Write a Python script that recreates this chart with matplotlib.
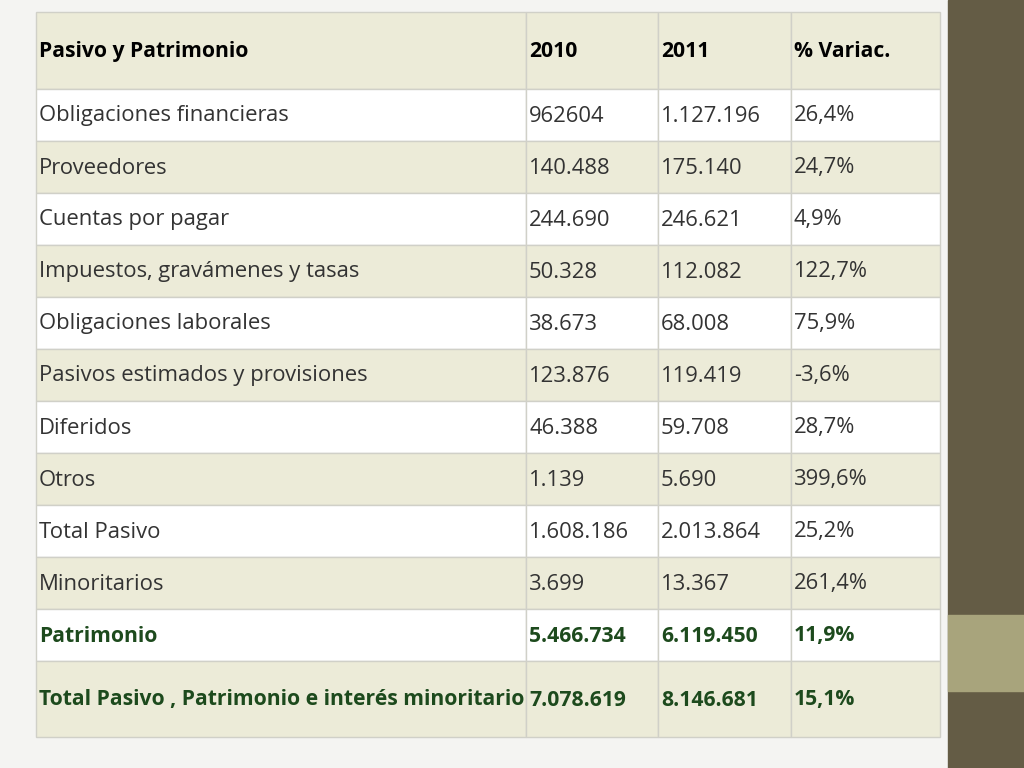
import matplotlib.pyplot as plt
from matplotlib.patches import Rectangle

header = ['Pasivo y Patrimonio', '2010', '2011', '% Variac.']
rows = ['Obligaciones financieras', 'Proveedores', 'Cuentas por pagar',
        'Impuestos, gravámenes y tasas', 'Obligaciones laborales',
        'Pasivos estimados y provisiones', 'Diferidos', 'Otros', 'Total Pasivo',
        'Minoritarios', 'Patrimonio',
        'Total Pasivo , Patrimonio e interés minoritario']
v2010 = ['962604', '140.488', '244.690', '50.328', '38.673', '123.876', '46.388',
         '1.139', '1.608.186', '3.699', '5.466.734', '7.078.619']
v2011 = ['1.127.196', '175.140', '246.621', '112.082', '68.008', '119.419', '59.708',
         '5.690', '2.013.864', '13.367', '6.119.450', '8.146.681']
variac = ['26,4%', '24,7%', '4,9%', '122,7%', '75,9%', '-3,6%', '28,7%',
          '399,6%', '25,2%', '261,4%', '11,9%', '15,1%']
bold_rows = ['Patrimonio', 'Total Pasivo , Patrimonio e interés minoritario']

fig = plt.figure(figsize=(10.24, 7.68), dpi=100)
ax = fig.add_axes([0, 0, 1, 1])
ax.set_xlim(0, 1024)
ax.set_ylim(768, 0)
ax.axis('off')

# background and sidebar
ax.add_patch(Rectangle((0, 0), 948, 768, color='#f4f4f2', zorder=0))
ax.add_patch(Rectangle((948, 0), 76, 768, color='#645c45', zorder=0))
ax.add_patch(Rectangle((948, 615), 76, 76, color='#a8a47c', zorder=1))

cols = [36, 526, 658, 791, 940]
edges = [12, 89] + [89 + 52 * (i + 1) for i in range(11)] + [737]
beige = '#ecebd8'
cells = [header] + [list(r) for r in zip(rows, v2010, v2011, variac)]

for i, vals in enumerate(cells):
    y0, y1 = edges[i], edges[i + 1]
    fc = beige if i % 2 == 0 else 'white'
    for j in range(4):
        ax.add_patch(Rectangle((cols[j], y0), cols[j + 1] - cols[j], y1 - y0,
                               facecolor=fc, edgecolor='#d0d0c8', lw=1, zorder=2))
        bold = i == 0 or vals[0] in bold_rows
        color = 'black' if i == 0 else ('#1d4a1d' if bold else '#333333')
        ax.text(cols[j] + 3, (y0 + y1) / 2 + 1, vals[j],
                fontsize=15.2 if bold else 15.8,
                fontfamily='Open Sans', fontweight='bold' if bold else 'normal',
                color=color, va='center', ha='left', zorder=3)

fig.savefig('out.png', dpi=100)
